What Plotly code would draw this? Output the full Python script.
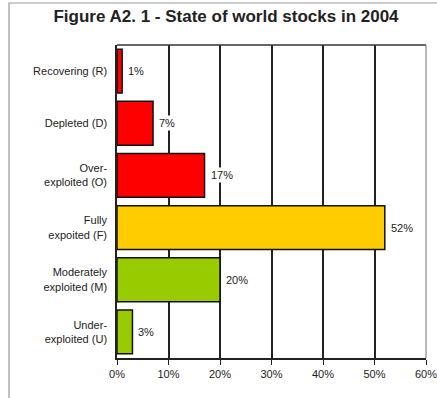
import plotly.graph_objects as go

categories = ["Recovering (R)", "Depleted (D)", "Over-<br>exploited (O)", "Fully<br>expoited (F)",
              "Moderately<br>exploited (M)", "Under-<br>exploited (U)"]
values = [1, 7, 17, 52, 20, 3]
bar_colors = ["#FF0000", "#FF0000", "#FF0000", "#FFCC00", "#99CC00", "#99CC00"]
tick_vals = [0, 10, 20, 30, 40, 50, 60]
tick_text = ["0%", "10%", "20%", "30%", "40%", "50%", "60%"]
title = "Figure A2. 1 - State of world stocks in 2004"

FONT = "Liberation Sans, Arial"

fig = go.Figure()
fig.add_trace(go.Bar(
    y=categories, x=values, orientation="h",
    marker=dict(color=bar_colors, line=dict(color="#111111", width=1.5)),
    width=0.84, hoverinfo="x+y",
))

for c, v in zip(categories, values):
    fig.add_annotation(x=v, y=c, text=f"{v}%", showarrow=False, xanchor="left",
                       xshift=4, bgcolor="white", borderpad=1,
                       font=dict(family=FONT, size=11, color="#222"))

fig.update_layout(
    width=437, height=398,
    margin=dict(l=117, r=11, t=45, b=40, autoexpand=False),
    paper_bgcolor="white", plot_bgcolor="white",
    showlegend=False,
    title=dict(text="<b>" + title + "</b>", x=226 / 437, xref="container", xanchor="center",
               y=1 - 16 / 398, yref="container", yanchor="middle",
               font=dict(family=FONT, size=17, color="#222")),
    font=dict(family=FONT, size=11, color="#222"),
)

fig.update_xaxes(range=[0, 60], tickvals=tick_vals, ticktext=tick_text,
                 showgrid=True, gridcolor="#222", gridwidth=1.5,
                 showline=True, linecolor="#222", linewidth=1.5, mirror=False,
                 ticks="outside", ticklen=5, tickcolor="#222", tickwidth=1.2,
                 zeroline=False, fixedrange=True, automargin=False,
                 ticklabeloverflow="allow",
                 tickfont=dict(family=FONT, size=11, color="#222"))
fig.update_yaxes(categoryorder="array", categoryarray=categories, autorange="reversed",
                 showline=True, linecolor="#222", linewidth=1.5, showgrid=False,
                 ticks="", ticklabelstandoff=6, fixedrange=True, automargin=False,
                 tickfont=dict(family=FONT, size=11, color="#222"))

# plot-area top and right borders
fig.add_shape(type="line", xref="paper", yref="paper", x0=0, x1=1, y0=1, y1=1,
              line=dict(color="#333", width=1.5))
fig.add_shape(type="line", xref="paper", yref="paper", x0=1, x1=1, y0=0, y1=1,
              line=dict(color="#888", width=1.2))
# outer frame
fig.add_shape(type="rect", xref="paper", yref="paper",
              x0=(9 - 117) / 309, x1=(437 - 117) / 309 + 0.01,
              y0=(358 - 398) / 313 - 0.01, y1=(358 - 3) / 313,
              line=dict(color="#999", width=1.2), layer="below")

fig.write_html("out.html", config={"displayModeBar": False},
               post_script="document.body.style.margin='0';document.body.style.overflow='hidden';")
